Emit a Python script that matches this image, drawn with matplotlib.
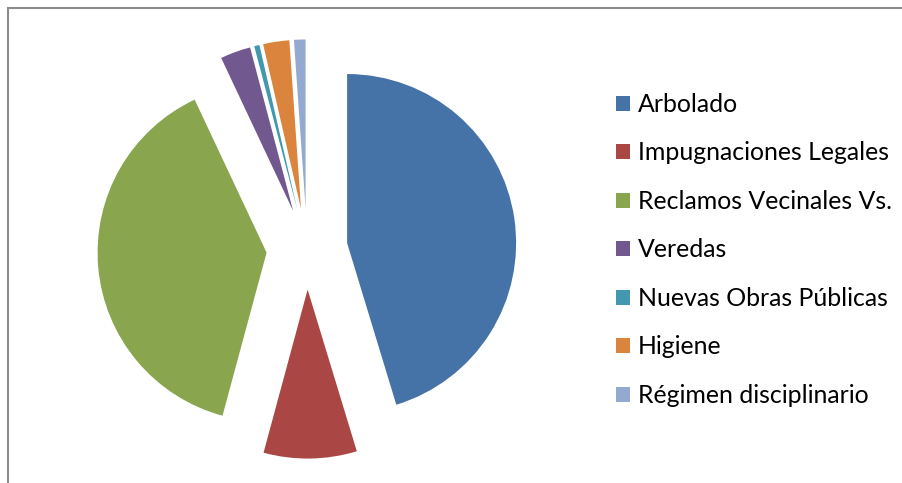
import matplotlib.pyplot as plt
from matplotlib.patches import Rectangle

# porcentajes
categorias = ["Arbolado", "Impugnaciones Legales", "Reclamos Vecinales Vs.",
              "Veredas", "Nuevas Obras Públicas", "Higiene",
              "Régimen disciplinario"]
valores = [45.3, 8.9, 38.8, 2.9, 0.5, 2.5, 1.1]
colores = ["#4572A7", "#AA4643", "#89A54E", "#71588F", "#4198AF",
           "#DB843D", "#93A9CF"]

W, H = 902, 483
cx, cy, r = 307, 249, 169   # centro y radio del pie en pixeles

fig = plt.figure(figsize=(W / 100, H / 100), dpi=100)
ax = fig.add_axes([0, 0, 1, 1])

wedges, _ = ax.pie(valores, colors=colores, startangle=90, counterclock=False,
                   explode=[0.24] * len(valores), radius=1,
                   wedgeprops=dict(linewidth=0), frame=True)
ax.set_xlim(-cx / r, (W - cx) / r)
ax.set_ylim(-(H - cy) / r, cy / r)
ax.set_aspect("auto")
ax.axis("off")

leg = fig.legend(wedges, categorias, loc="upper left",
                 bbox_to_anchor=(616 / W, 1 - 93 / H),
                 frameon=False, prop={"family": "Lato", "size": 17.9},
                 handlelength=0.56, handleheight=0.56, handletextpad=0.32,
                 labelspacing=1.025, borderpad=0, borderaxespad=0)

fig.patches.append(Rectangle((8 / W, -0.1), 1.2, 1 - 8 / H + 0.1,
                             transform=fig.transFigure, fill=False,
                             edgecolor="#8c8c8c", linewidth=1.5))

fig.savefig("out.png", dpi=100)
